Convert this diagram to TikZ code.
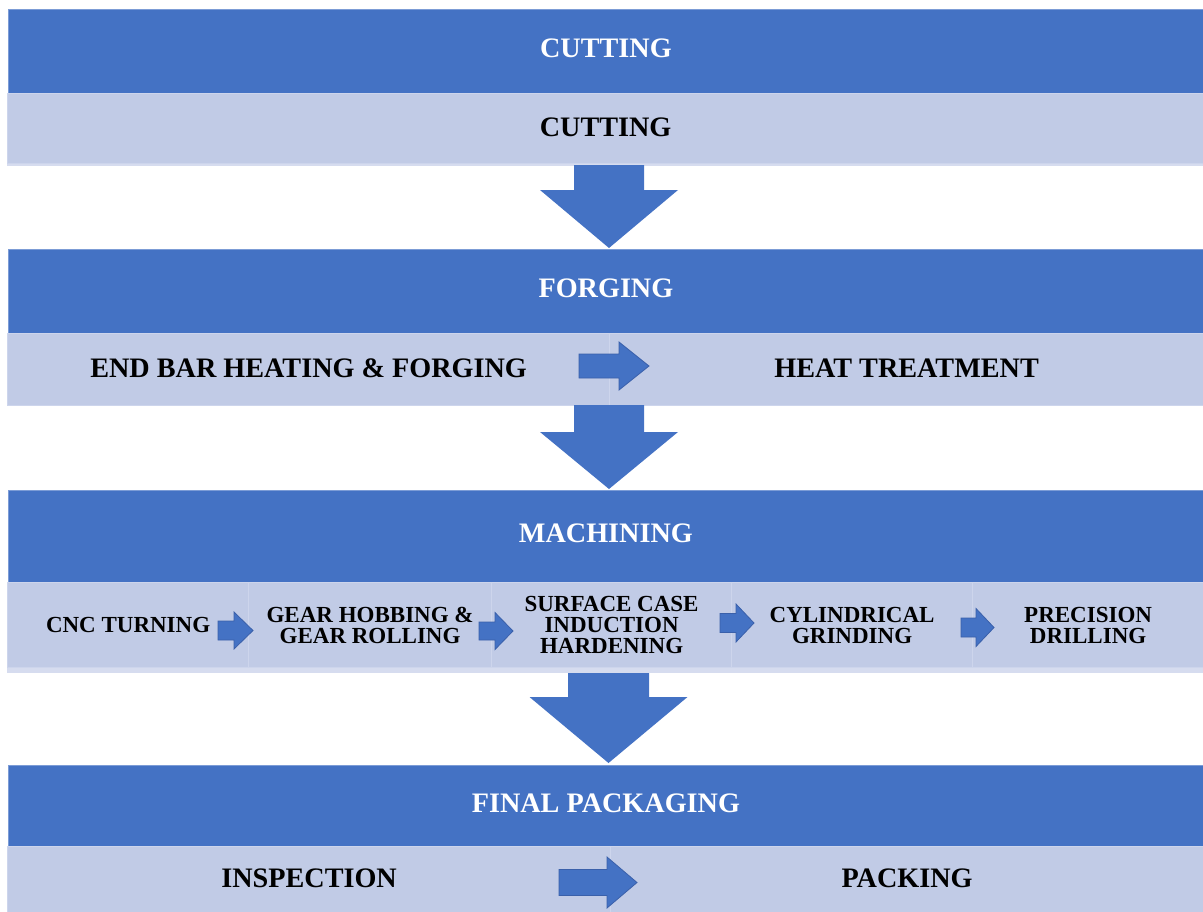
\documentclass[tikz,border=0pt]{standalone}
\usepackage{fontspec}
\setmainfont{Liberation Serif}
\usetikzlibrary{calc}
\definecolor{hdrblue}{RGB}{68,114,196}
\definecolor{lightblue}{RGB}{193,203,230}
\definecolor{celledge}{RGB}{205,213,236}
\definecolor{strip}{RGB}{214,220,239}
\definecolor{arrowedge}{RGB}{58,96,170}
\tikzset{
  hdr/.style={fill=hdrblue, draw=hdrblue!70!white, line width=0.4pt, text=white, inner sep=0pt, anchor=north west,
    text depth=3pt, font=\bfseries\fontsize{14.1}{15}\selectfont},
  cell/.style={fill=lightblue, draw=celledge, line width=0.6pt, text=black, inner sep=0pt, anchor=north west,
    text depth=1pt, font=\bfseries\fontsize{14.1}{15}\selectfont},
  smallcell/.style={cell, align=center, text depth=0pt, font=\bfseries\fontsize{11.5}{10.4}\selectfont},
  blk/.style={fill=hdrblue},
  sblk/.style={fill=hdrblue, draw=arrowedge, line width=0.4pt},
}
% down block arrow: #1 top centre, #2 shaft half width, #3 head half width, #4 shaft length, #5 head length
\newcommand\downblk[5]{%
  \fill[blk] (#1) ++({-#2},0) -- ++({2*#2},0) -- ++(0,#4) -- ++({#3-#2},0) -- ++({-#3},#5) -- ++({-#3},{-#5}) -- ++({#3-#2},0) -- cycle;}
% right block arrow: #1 left centre, #2 shaft half height, #3 head half height, #4 shaft length, #5 head length
\newcommand\rightblk[5]{%
  \filldraw[sblk] (#1) ++(0,{-#2}) -- ++(#4,0) -- ++(0,{#2-#3}) -- ++(#5,#3) -- ++({-#5},#3) -- ++(0,{#2-#3}) -- ++({-#4},0) -- cycle;}
\begin{document}
\begin{tikzpicture}[x=0.5pt,y=-0.5pt]
\useasboundingbox (0,0) rectangle (1203,911);
% ---------- CUTTING ----------
\node[hdr, minimum width=597.5pt, minimum height=42pt] (h1) at (8,9) {CUTTING};
\fill[strip] (7,163) rectangle (1203,166);
\node[cell, minimum width=598pt, minimum height=35pt] (c1) at (7,93) {CUTTING};
\coordinate (a1) at (609,165);
\downblk{a1}{35}{69}{25}{58}
% ---------- FORGING ----------
\node[hdr, minimum width=597.5pt, minimum height=42pt] (h2) at (8,249) {FORGING};
\node[cell, minimum width=301pt, minimum height=36pt] (c21) at (7,333) {END BAR HEATING \& FORGING};
\node[cell, minimum width=297pt, minimum height=36pt] (c22) at (609,333) {HEAT TREATMENT};
\coordinate (f1) at (579,366);
\rightblk{f1}{12}{24}{40}{30}
\coordinate (a2) at (609,405);
\downblk{a2}{35}{69}{27}{57}
% ---------- MACHINING ----------
\node[hdr, minimum width=597.5pt, minimum height=46pt] (h3) at (8,490) {MACHINING};
\fill[strip] (7,667) rectangle (1203,673);
\node[smallcell, minimum width=120.5pt, minimum height=42.5pt] (m1) at (7,582) {CNC TURNING};
\node[smallcell, minimum width=121.5pt, minimum height=42.5pt] (m2) at (248,582) {GEAR HOBBING \&\\GEAR ROLLING};
\node[smallcell, minimum width=120pt, minimum height=42.5pt] (m3) at (491,582) {SURFACE CASE\\INDUCTION\\HARDENING};
\node[smallcell, minimum width=120.5pt, minimum height=42.5pt] (m4) at (731,582) {CYLINDRICAL\\GRINDING};
\node[smallcell, minimum width=115.5pt, minimum height=42.5pt] (m5) at (972,582) {PRECISION\\DRILLING};
\coordinate (r1) at (218,630.5);
\rightblk{r1}{9.5}{18.5}{16}{19}
\coordinate (r2) at (479,631);
\rightblk{r2}{9}{18.5}{16}{18}
\coordinate (r3) at (720,623);
\rightblk{r3}{9.5}{19}{16}{18}
\coordinate (r4) at (961,627.5);
\rightblk{r4}{9.5}{19}{15}{18}
\coordinate (a3) at (608.5,673);
\downblk{a3}{40.5}{79}{24}{66}
% ---------- FINAL PACKAGING ----------
\node[hdr, minimum width=597.5pt, minimum height=40.5pt] (h4) at (8,765) {FINAL PACKAGING};
\node[cell, minimum width=301.5pt, minimum height=33pt] (p1) at (7,846) {INSPECTION};
\node[cell, minimum width=296.5pt, minimum height=33pt] (p2) at (610,846) {PACKING};
\coordinate (f2) at (559,882.5);
\rightblk{f2}{13}{25.5}{48}{30}
\end{tikzpicture}
\end{document}
